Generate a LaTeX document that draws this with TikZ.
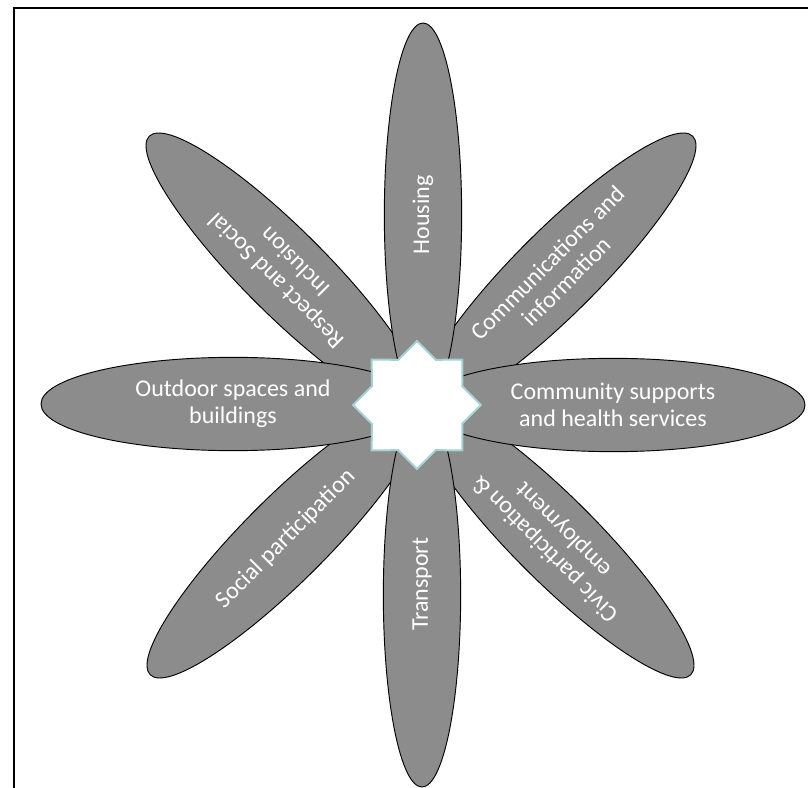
\documentclass[tikz,border=0pt]{standalone}
\usepackage{fontspec}
\setmainfont{Carlito}
\usetikzlibrary{shapes.geometric,shadows}
\definecolor{petalgray}{RGB}{140,140,140}
\definecolor{hubline}{RGB}{165,208,212}
\begin{document}
\begin{tikzpicture}[x=0.75pt,y=-0.75pt]
\tikzstyle{petal} = [ellipse, draw=black, line width=0.7pt, fill=petalgray, inner sep=0pt, minimum width=288pt, text=white, align=center, font=\fontsize{18}{20}\selectfont]
\tikzstyle{hpetal} = [petal, minimum height=70pt]
\tikzstyle{vpetal} = [petal, minimum height=58pt]
\tikzstyle{dpetal} = [petal, minimum height=63pt]
\tikzstyle{hub} = [star, star points=8, star point ratio=1.307, minimum size=96pt, inner sep=0pt, draw=hubline, line width=1.5pt, fill=white, drop shadow={shadow xshift=1.2pt, shadow yshift=-1.2pt, opacity=0.25}]
%
\useasboundingbox (0,0) rectangle (808,788);
\draw [line width=1.5pt] (14,800) -- (14,8) -- (820,8);
%
% diagonal petals
\node (respect)   [dpetal, rotate=135] at (285,272) {Respect and Social\\Inclusion};
\node (comms)     [dpetal, rotate=45]  at (557,272) {Communications and\\information};
\node (social)    [dpetal, rotate=45]  at (286,539) {Social participation};
\node (civic)     [dpetal, rotate=135] at (555,539) {Civic participation \&\\employment};
% straight petals
\node (housing)   [vpetal, rotate=90]  at (423,215) {Housing};
\node (transport) [vpetal, rotate=90]  at (422,595) {\hspace*{16pt}Transport};
\node (outdoor)   [hpetal]             at (233,404) {Outdoor spaces and\\buildings};
\node (community) [hpetal]             at (613,405) {Community supports\\and health services};
%
\node (centre)    [hub]                at (417,405) {};
\end{tikzpicture}
\end{document}
